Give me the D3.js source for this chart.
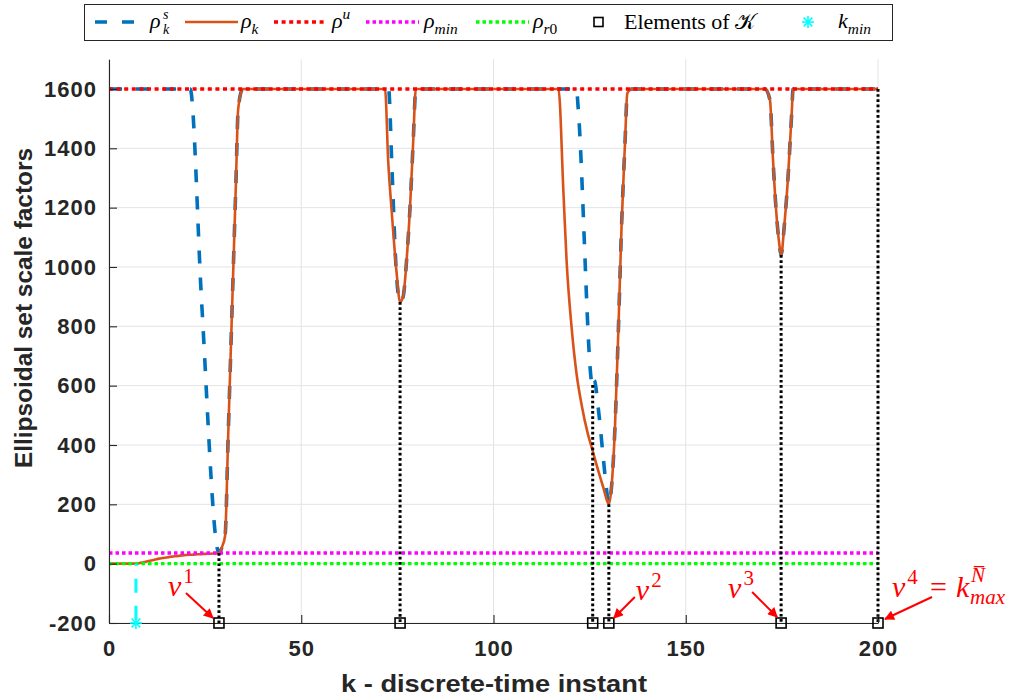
<!DOCTYPE html>
<html>
<head>
<meta charset="utf-8">
<script src="https://cdn.jsdelivr.net/npm/d3@7"></script>
<style>
  body { margin: 0; background: #fff; }
  svg { display: block; }
</style>
</head>
<body>
<div id="chart"></div>
<script>
// ---- data ----
const kTicks = [0, 50, 100, 150, 200];
const rhoTicks = [-200, 0, 200, 400, 600, 800, 1000, 1200, 1400, 1600];

// rho_k (solid orange)
const kRho = [0, 7, 8, 9, 10, 11, 12, 13, 14, 15, 16, 17, 18, 19, 20, 21, 22, 23, 24, 25, 26, 27, 28, 28.6,
  29.5, 30.2, 31, 32, 33, 33.6, 34.8,
  71.8, 72.6, 73.5, 74.8, 75.7, 76.5, 77.4, 78.3, 79.1, 79.8,
  116.9, 118.2, 119.0, 120.3, 121.6, 123.0, 124.4, 125.8, 127.2, 128.6, 130, 130.7, 131.6, 132.5, 133.3, 134.2, 134.8, 135.9,
  170.6, 171.9, 172.7, 173.5, 174.3, 174.8, 175.6, 176.6, 177.6, 177.9, 200];
const rho = [0, 0, 2, 5, 8, 11, 14, 17, 19, 21, 23, 25, 26, 28, 29, 30, 30.5, 31.5, 32, 33, 33.5, 34, 35, 36,
  60, 95, 433, 856, 1279, 1533, 1600,
  1600, 1360, 1192, 980, 882, 900, 1023, 1203, 1418, 1600,
  1600, 1248, 1023, 798, 640, 530, 445, 380, 315, 255, 200, 260, 462, 798, 1136, 1417, 1585, 1600,
  1600, 1563, 1360, 1192, 1080, 1040, 1135, 1303, 1529, 1600, 1600];

// rho_k^s (dashed blue)
const kRhoS = [0, 21.1, 24.1, 28.4, 28.6, 29.5, 30.2, 31, 32, 33, 33.6, 34.8,
  72.7, 73.6, 74.6, 75.7, 76.5, 77.4, 78.3, 79.1, 79.8,
  121.6, 122, 125.8, 126.2, 127.3, 128.6, 129.4, 130, 130.7, 131.6, 132.5, 133.3, 134.2, 134.8, 135.9,
  170.6, 171.9, 172.7, 173.5, 174.3, 174.8, 175.6, 176.6, 177.6, 177.9, 200];
const rhoS = [1600, 1600, 880, 40, 36, 60, 95, 433, 856, 1279, 1533, 1600,
  1600, 1330, 1010, 882, 900, 1023, 1203, 1418, 1600,
  1600, 1540, 598, 618, 518, 350, 250, 200, 260, 462, 798, 1136, 1417, 1585, 1600,
  1600, 1563, 1360, 1192, 1080, 1040, 1135, 1303, 1529, 1600, 1600];

// constant levels
const rhoU = 1600;
const rhoMin = 36;
const rhoR0 = 0;

// elements of K
const kElems = [28.6, 75.7, 125.8, 130, 174.8, 200];
const rhoAtElems = [36, 882, 602, 200, 1040, 1600];

// k_min
const kMin = 7;

// annotation labels v^1..v^4
const vLabels = ["1", "2", "3", "4"];
const vElemIdx = [0, 3, 4, 5];

// ---- layout ----
const width = 1027, height = 700;
const margin = {top: 59.3, left: 109, right: 149, bottom: 77};
const plotW = width - margin.left - margin.right;
const plotH = height - margin.top - margin.bottom;

const svg = d3.select("#chart").append("svg")
  .attr("width", width).attr("height", height);

const defs = svg.append("defs");
defs.append("marker")
  .attr("id", "arrowRed")
  .attr("viewBox", "0 0 10 10")
  .attr("refX", 9).attr("refY", 5)
  .attr("markerWidth", 13).attr("markerHeight", 10)
  .attr("markerUnits", "userSpaceOnUse")
  .attr("orient", "auto")
  .append("path").attr("d", "M0,0 L10,5 L0,10 z").attr("fill", "#ff0000");

const g = svg.append("g").attr("transform", "translate(" + margin.left + "," + margin.top + ")");

const x = d3.scaleLinear().domain([0, 200]).range([0, plotW]);
const y = d3.scaleLinear().domain([-200, 1700]).range([plotH, 0]);

const axisColor = "#262626";
const tickFont = "'Liberation Sans', Arial, Helvetica, sans-serif";
const mathFont = "'Liberation Serif', 'DejaVu Serif', 'Times New Roman', serif";

// grid
g.append("g").selectAll("line.gx").data(kTicks).enter().append("line")
  .attr("x1", d => x(d)).attr("x2", d => x(d))
  .attr("y1", 0).attr("y2", plotH)
  .attr("stroke", "#e3e3e3").attr("stroke-width", 1);
g.append("g").selectAll("line.gy").data(rhoTicks).enter().append("line")
  .attr("x1", 0).attr("x2", plotW)
  .attr("y1", d => y(d)).attr("y2", d => y(d))
  .attr("stroke", "#e3e3e3").attr("stroke-width", 1);

// series
const line = d3.line().x(d => x(d[0])).y(d => y(d[1])).curve(d3.curveMonotoneX);

g.append("path").datum(d3.zip(kRhoS, rhoS))
  .attr("d", line).attr("fill", "none")
  .attr("stroke", "#0072BD").attr("stroke-width", 3.6)
  .attr("stroke-dasharray", "13,14");

g.append("path").datum(d3.zip(kRho, rho))
  .attr("d", line).attr("fill", "none")
  .attr("stroke", "#D95319").attr("stroke-width", 2.6)
  .attr("stroke-linejoin", "round");

const levels = [
  {v: rhoU, c: "#ff0000", dash: "4,3.6"},
  {v: rhoMin, c: "#ff00ff", dash: "3.5,3"},
  {v: rhoR0, c: "#00ff00", dash: "3.5,3"}
];
g.append("g").selectAll("line").data(levels).enter().append("line")
  .attr("x1", x(0)).attr("x2", x(200))
  .attr("y1", d => y(d.v)).attr("y2", d => y(d.v))
  .attr("stroke", d => d.c).attr("stroke-width", 3.4)
  .attr("stroke-dasharray", d => d.dash);

// elements of K: dotted drop lines and squares
const elems = d3.zip(kElems, rhoAtElems);
g.append("g").selectAll("line").data(elems).enter().append("line")
  .attr("x1", d => x(d[0])).attr("x2", d => x(d[0]))
  .attr("y1", d => y(d[1])).attr("y2", y(-200))
  .attr("stroke", "#000").attr("stroke-width", 3)
  .attr("stroke-dasharray", "2.7,2.5");

// k_min
g.append("line")
  .attr("x1", x(kMin)).attr("x2", x(kMin))
  .attr("y1", y(0)).attr("y2", y(-200))
  .attr("stroke", "#00ffff").attr("stroke-width", 3)
  .attr("stroke-dasharray", "14,13").attr("stroke-dashoffset", 12);

// axes
const fmt = d => String(d);
const xAxis = g.append("g")
  .attr("transform", "translate(0," + plotH + ")")
  .call(d3.axisBottom(x).tickValues(kTicks).tickFormat(fmt)
    .tickSizeInner(-8).tickSizeOuter(0).tickPadding(17));
const yAxis = g.append("g")
  .call(d3.axisLeft(y).tickValues(rhoTicks).tickFormat(fmt)
    .tickSizeInner(-8).tickSizeOuter(0).tickPadding(12));
[xAxis, yAxis].forEach(a => {
  a.select(".domain").attr("stroke", axisColor).attr("stroke-width", 1.1);
  a.selectAll(".tick line").attr("stroke", axisColor).attr("stroke-width", 1.1);
  a.selectAll(".tick text")
    .attr("fill", axisColor)
    .style("font-family", tickFont)
    .style("font-weight", "bold")
    .style("font-size", "22px")
    .style("letter-spacing", "1px");
});

// squares and asterisk drawn above the axis
g.append("g").selectAll("rect").data(elems).enter().append("rect")
  .attr("x", d => x(d[0]) - 5).attr("y", y(-200) - 5)
  .attr("width", 10).attr("height", 10)
  .attr("fill", "none").attr("stroke", "#000").attr("stroke-width", 1.6);

function asterisk(sel, cx, cy, r, color) {
  const a = r * 0.72;
  const segs = [[0, -r, 0, r], [-r, 0, r, 0], [-a, -a, a, a], [-a, a, a, -a]];
  sel.append("g").selectAll("line").data(segs).enter().append("line")
    .attr("x1", d => cx + d[0]).attr("y1", d => cy + d[1])
    .attr("x2", d => cx + d[2]).attr("y2", d => cy + d[3])
    .attr("stroke", color).attr("stroke-width", 1.6);
}
asterisk(g, x(kMin), y(-200), 6, "#00ffff");

// axis titles
svg.append("text")
  .attr("x", 494).attr("y", 692)
  .attr("text-anchor", "middle")
  .attr("textLength", 306).attr("lengthAdjust", "spacingAndGlyphs")
  .attr("fill", axisColor)
  .style("font-family", tickFont).style("font-weight", "bold").style("font-size", "24px")
  .text("k - discrete-time instant");
svg.append("text")
  .attr("transform", "translate(32,308) rotate(-90)")
  .attr("text-anchor", "middle")
  .attr("textLength", 320).attr("lengthAdjust", "spacingAndGlyphs")
  .attr("fill", axisColor)
  .style("font-family", tickFont).style("font-weight", "bold").style("font-size", "23px")
  .text("Ellipsoidal set scale factors");

// math text helper: parts = [{t, pos: 'b'|'sup'|'sub', it: bool, dx, up}]
function mathText(sel, px, py, parts, size, color) {
  const t = sel.append("text").attr("x", px).attr("y", py)
    .attr("fill", color).style("font-family", mathFont).style("font-size", size + "px");
  let cur = 0;
  parts.forEach(p => {
    const shift = p.pos === "sup" ? -(p.up || 0.42) * size : p.pos === "sub" ? 0.25 * size : 0;
    const fs = p.pos === "b" || !p.pos ? size : size * 0.7;
    t.append("tspan")
      .attr("dy", shift - cur)
      .attr("dx", p.dx || 0)
      .style("font-size", fs + "px")
      .style("font-style", p.it === false ? "normal" : "italic")
      .text(p.t);
    cur = shift;
  });
  return t;
}

// legend
const lg = svg.append("g");
lg.append("rect").attr("x", 84.5).attr("y", 4.5).attr("width", 808).attr("height", 36)
  .attr("fill", "#fff").attr("stroke", axisColor).attr("stroke-width", 1);
const ly = 22;
const legendLines = [
  {x1: 95, x2: 136, c: "#0072BD", w: 3.6, dash: "12,15"},
  {x1: 185, x2: 238, c: "#D95319", w: 2.6, dash: null},
  {x1: 274, x2: 327, c: "#ff0000", w: 3.4, dash: "4,3.6"},
  {x1: 366, x2: 419, c: "#ff00ff", w: 3.4, dash: "3.5,3"},
  {x1: 476, x2: 529, c: "#00ff00", w: 3.4, dash: "3.5,3"}
];
lg.selectAll("line.l").data(legendLines).enter().append("line")
  .attr("x1", d => d.x1).attr("x2", d => d.x2)
  .attr("y1", ly).attr("y2", ly)
  .attr("stroke", d => d.c).attr("stroke-width", d => d.w)
  .attr("stroke-dasharray", d => d.dash);
lg.append("rect").attr("x", 594).attr("y", ly - 4.5).attr("width", 9).attr("height", 9)
  .attr("fill", "none").attr("stroke", "#000").attr("stroke-width", 1.6);
asterisk(lg, 808, ly, 6, "#00ffff");

const lsz = 22;
// rho^s_k: base and the stacked scripts as separate small texts
mathText(lg, 150, 28, [{t: "ρ"}], lsz, "#000");
mathText(lg, 163, 19, [{t: "s"}], 14, "#000");
mathText(lg, 163, 34, [{t: "k"}], 14, "#000");
mathText(lg, 241, 28, [{t: "ρ"}, {t: "k", pos: "sub"}], lsz, "#000");
mathText(lg, 332, 28, [{t: "ρ"}, {t: "u", pos: "sup"}], lsz, "#000");
mathText(lg, 424, 28, [{t: "ρ"}, {t: "min", pos: "sub"}], lsz, "#000");
mathText(lg, 533, 28, [{t: "ρ"}, {t: "r", pos: "sub"}, {t: "0", pos: "sub", it: false}], lsz, "#000");
mathText(lg, 624, 29, [{t: "Elements of ", it: false}, {t: "𝒦", it: false}], lsz, "#000");
mathText(lg, 838, 28, [{t: "k"}, {t: "min", pos: "sub"}], lsz, "#000");

// annotations v^i with red arrows to the squares
const ann = [
  {tx: -51, ty: -27, ax1: -33, ay1: -30, ax2: -6, ay2: -5},
  {tx: 27, ty: -23, ax1: 26, ay1: -26, ax2: 5, ay2: -5},
  {tx: -53, ty: -25, ax1: -29, ay1: -31, ax2: -4, ay2: -6},
  {tx: 14, ty: -26, ax1: 54, ay1: -26, ax2: 7, ay2: -4}
];
vLabels.forEach((lab, i) => {
  const cx = margin.left + x(kElems[vElemIdx[i]]);
  const cy = margin.top + y(-200);
  const a = ann[i];
  svg.append("line")
    .attr("x1", cx + a.ax1).attr("y1", cy + a.ay1)
    .attr("x2", cx + a.ax2).attr("y2", cy + a.ay2)
    .attr("stroke", "#ff0000").attr("stroke-width", 2)
    .attr("marker-end", "url(#arrowRed)");
  mathText(svg, cx + a.tx, cy + a.ty,
    [{t: "v"}, {t: lab, pos: "sup", it: false, dx: 2}], 30, "#ff0000");
  if (i === 3) {
    // "= k" then stacked N-bar / max as separate texts
    mathText(svg, cx + 52, cy + a.ty, [{t: "=", it: false}], 30, "#ff0000");
    mathText(svg, cx + 78, cy + a.ty, [{t: "k"}], 30, "#ff0000");
    mathText(svg, cx + 93, cy + a.ty - 15, [{t: "N\u0305"}], 21, "#ff0000");
    mathText(svg, cx + 92, cy + a.ty + 7, [{t: "max"}], 21, "#ff0000");
  }
});
</script>
</body>
</html>
